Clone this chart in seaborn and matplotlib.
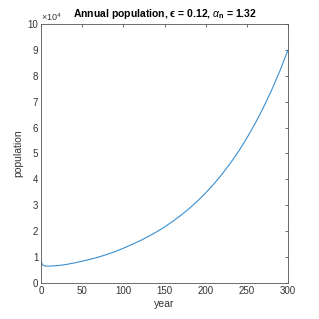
import numpy as np
import pandas as pd
import seaborn as sns
import matplotlib.pyplot as plt

# Data
years = [0, 1, 2, 3, 5, 8, 12, 20, 30, 40, 50, 60, 70, 80, 90, 100,
         110, 120, 130, 140, 150, 160, 170, 180, 190, 200, 210, 220,
         230, 240, 250, 260, 270, 280, 290, 300]
population = [8600, 7600, 7000, 6700, 6550, 6500, 6520, 6700, 7100, 7700,
              8400, 9150, 10000, 11000, 12100, 13400, 14800, 16250, 17900,
              19650, 21600, 23800, 26150, 28750, 31600, 34800, 38250, 42050,
              46250, 50850, 55950, 61550, 67700, 74400, 81800, 90000]
ytick_vals = [0, 1, 2, 3, 4, 5, 6, 7, 8, 9, 10]
xtick_vals = [0, 50, 100, 150, 200, 250, 300]

sns.set_style("white")
plt.rcParams['font.family'] = ['Liberation Sans', 'DejaVu Sans']
plt.rcParams['mathtext.fontset'] = 'custom'
plt.rcParams['mathtext.rm'] = 'Liberation Sans'
plt.rcParams['mathtext.it'] = 'Liberation Sans:italic'
plt.rcParams['mathtext.bf'] = 'Liberation Sans:bold'

df = pd.DataFrame({"year": years, "population": population})

fig = plt.figure(figsize=(3.19, 3.19), dpi=100)
ax = fig.add_axes([0.1285, 0.113, 0.7745, 0.812])
sns.lineplot(data=df, x="year", y="population", ax=ax, color="#3A8FD2", linewidth=0.8)

grey = "#333333"
ax.set_xlim(0, 300)
ax.set_ylim(0, 100000)
ax.set_xticks(xtick_vals)
ax.set_yticks([v * 1e4 for v in ytick_vals])
ax.set_yticklabels([str(v) for v in ytick_vals])
ax.tick_params(direction="in", length=2.5, width=0.5, labelsize=7, colors=grey,
               top=True, right=True, pad=2)
for s in ax.spines.values():
    s.set_color("#555555")
    s.set_linewidth(0.6)
ax.set_xlabel("year", fontsize=7.5, color=grey, labelpad=2)
ax.set_ylabel("population", fontsize=7.5, color=grey, labelpad=3)
ax.set_title("Annual population, \u03f5 = 0.12, $\\alpha_\\mathbf{n}$ = 1.32",
             fontsize=7.5, fontweight="bold", color="black", pad=5)
ax.text(0.0, 1.003, r"$\times10^4$", transform=ax.transAxes, fontsize=6.5,
        color=grey, ha="left", va="bottom")

fig.savefig("out.png", dpi=100)
